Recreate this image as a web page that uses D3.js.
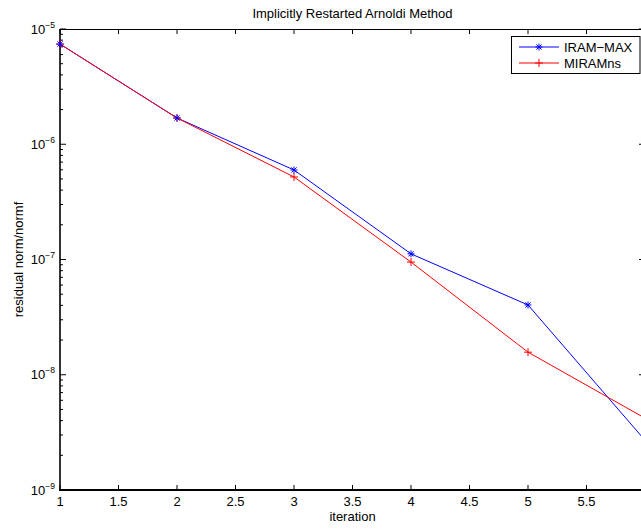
<!DOCTYPE html>
<html><head><meta charset="utf-8">
<script src="https://cdn.jsdelivr.net/npm/d3@7"></script>
<style>body{margin:0;background:#fff;} text{font-family:"Liberation Sans",Arial,Helvetica,sans-serif;fill:#000;}</style>
</head><body>
<svg id="c" width="641" height="530"></svg>
<script>
const iterations = [1, 2, 3, 4, 5, 6];
const iramMax = [7.4e-6, 1.69e-6, 5.98e-7, 1.12e-7, 4.03e-8, 2.7e-9];
const miramNs = [7.4e-6, 1.69e-6, 5.2e-7, 9.5e-8, 1.57e-8, 4.2e-9];
const xTicks = [1, 1.5, 2, 2.5, 3, 3.5, 4, 4.5, 5, 5.5, 6];
const xTickLabels = ["1", "1.5", "2", "2.5", "3", "3.5", "4", "4.5", "5", "5.5", ""];
const yDecades = [-9, -8, -7, -6, -5];
const seriesNames = ["IRAM\u2212MAX", "MIRAMns"];
const titleText = "Implicitly Restarted Arnoldi Method";
const xLabel = "iteration";
const yLabel = "residual norm/normf";

const L = 60, R = 645, T = 29, B = 490;
const svg = d3.select("#c");
const x = d3.scaleLinear().domain([1, 6]).range([L, R]);
const y = d3.scaleLog().domain([1e-9, 1e-5]).range([B, T]);

// minor ticks
const minors = [];
for (let d = -9; d < -5; d++) for (let m = 2; m <= 9; m++) minors.push(m * Math.pow(10, d));
const g = svg.append("g");
minors.forEach(v => {
  g.append("line").attr("x1", L).attr("x2", L + 3).attr("y1", y(v)).attr("y2", y(v)).attr("stroke", "#000").attr("stroke-width", 1);
  g.append("line").attr("x1", R).attr("x2", R - 3).attr("y1", y(v)).attr("y2", y(v)).attr("stroke", "#000").attr("stroke-width", 1);
});
yDecades.forEach(d => {
  const v = Math.pow(10, d);
  g.append("line").attr("x1", L).attr("x2", L + 6).attr("y1", y(v)).attr("y2", y(v)).attr("stroke", "#000");
  g.append("line").attr("x1", R).attr("x2", R - 6).attr("y1", y(v)).attr("y2", y(v)).attr("stroke", "#000");
  const t = g.append("text").attr("x", 55).attr("y", y(v) + 4.5).attr("text-anchor", "end").attr("font-size", 13);
  t.append("tspan").text("10");
  t.append("tspan").attr("dy", -6).attr("font-size", 8.5).text("\u2212" + (-d));
});
xTicks.forEach((v, i) => {
  g.append("line").attr("x1", x(v)).attr("x2", x(v)).attr("y1", B).attr("y2", B - 5).attr("stroke", "#000");
  g.append("line").attr("x1", x(v)).attr("x2", x(v)).attr("y1", T).attr("y2", T + 5).attr("stroke", "#000");
  if (xTickLabels[i]) g.append("text").attr("x", x(v)).attr("y", B + 16).attr("text-anchor", "middle").attr("font-size", 13).text(xTickLabels[i]);
});
// box
g.append("line").attr("x1", L).attr("x2", R).attr("y1", T + 0.5).attr("y2", T + 0.5).attr("stroke", "#000");
g.append("line").attr("x1", R - 0.5).attr("x2", R - 0.5).attr("y1", T).attr("y2", B).attr("stroke", "#000");
g.append("line").attr("x1", L).attr("x2", L).attr("y1", T).attr("y2", B + 1).attr("stroke", "#000").attr("stroke-width", 1.6);
g.append("line").attr("x1", L - 1).attr("x2", R).attr("y1", B).attr("y2", B).attr("stroke", "#000").attr("stroke-width", 2);

// clip
svg.append("clipPath").attr("id", "clip").append("rect").attr("x", L).attr("y", T).attr("width", R - L).attr("height", B - T);

const line = d3.line().x(d => x(d[0])).y(d => y(d[1]));
function star(sel, cx, cy, color) {
  const s = 3.5, s2 = 2.6;
  sel.append("path").attr("d", `M${cx - s},${cy}H${cx + s}M${cx},${cy - s}V${cy + s}M${cx - s2},${cy - s2}L${cx + s2},${cy + s2}M${cx - s2},${cy + s2}L${cx + s2},${cy - s2}`)
    .attr("stroke", color).attr("stroke-width", 1).attr("fill", "none");
}
function plus(sel, cx, cy, color) {
  const s = 4;
  sel.append("path").attr("d", `M${cx - s},${cy}H${cx + s}M${cx},${cy - s}V${cy + s}`)
    .attr("stroke", color).attr("stroke-width", 1).attr("fill", "none");
}
const plot = svg.append("g").attr("clip-path", "url(#clip)");
const d1 = iterations.map((it, i) => [it, iramMax[i]]);
const d2 = iterations.map((it, i) => [it, miramNs[i]]);
plot.append("path").attr("d", line(d1)).attr("stroke", "#0000ff").attr("fill", "none").attr("stroke-width", 1);
plot.append("path").attr("d", line(d2)).attr("stroke", "#ff0000").attr("fill", "none").attr("stroke-width", 1);
const mk = svg.append("g");
d2.forEach(d => plus(mk, x(d[0]), y(d[1]), "#ff0000"));
d1.forEach(d => star(mk, x(d[0]), y(d[1]), "#0000ff"));

// legend
const lg = svg.append("g");
lg.append("rect").attr("x", 511.5).attr("y", 36.5).attr("width", 128.5).attr("height", 37).attr("fill", "#fff").attr("stroke", "#000");
[["#0000ff", star], ["#ff0000", plus]].forEach((c, i) => {
  const yy = 47 + i * 16;
  lg.append("line").attr("x1", 519).attr("x2", 559).attr("y1", yy).attr("y2", yy).attr("stroke", c[0]);
  c[1](lg, 539, yy, c[0]);
  lg.append("text").attr("x", 564).attr("y", yy + 5).attr("font-size", 13).text(seriesNames[i]);
});

svg.append("text").attr("x", (L + R) / 2).attr("y", 18).attr("text-anchor", "middle").attr("font-size", 13).text(titleText);
svg.append("text").attr("x", (L + R) / 2).attr("y", 521).attr("text-anchor", "middle").attr("font-size", 13).text(xLabel);
svg.append("text").attr("transform", `translate(23,${(T + B) / 2}) rotate(-90)`).attr("text-anchor", "middle").attr("font-size", 13).text(yLabel);
</script>
</body></html>
